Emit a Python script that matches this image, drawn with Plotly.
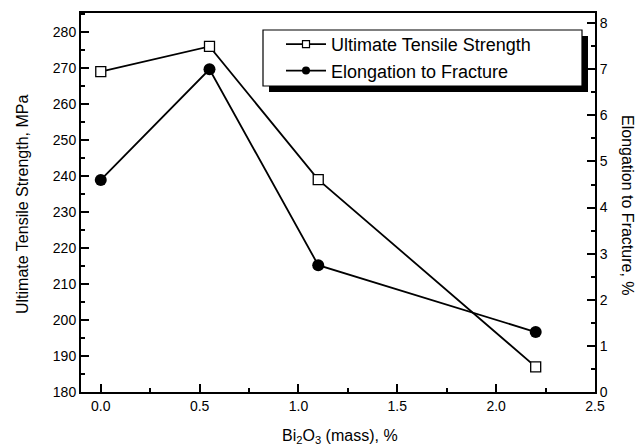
import plotly.graph_objects as go

bi2o3 = [0.0, 0.55, 1.1, 2.2]
uts = [269, 276, 239, 187]
elongation = [4.6, 7.0, 2.75, 1.3]

FONT = "Arial, Liberation Sans, sans-serif"

fig = go.Figure()
fig.add_trace(go.Scatter(
    x=bi2o3, y=uts, name="Ultimate Tensile Strength", mode="lines+markers",
    line=dict(color="black", width=1.8), showlegend=False,
    marker=dict(symbol="square", size=10, color="white", line=dict(color="black", width=1.3)),
    yaxis="y"))
fig.add_trace(go.Scatter(
    x=bi2o3, y=elongation, name="Elongation to Fracture", mode="lines+markers",
    line=dict(color="black", width=1.8), showlegend=False,
    marker=dict(symbol="circle", size=12, color="black"),
    yaxis="y2"))
# legend entries (small symbols, as in the reference)
fig.add_trace(go.Scatter(
    x=[None], y=[None], name="Ultimate Tensile Strength", mode="lines+markers",
    line=dict(color="black", width=1.8),
    marker=dict(symbol="square", size=7, color="white", line=dict(color="black", width=1.2))))
fig.add_trace(go.Scatter(
    x=[None], y=[None], name="Elongation to Fracture", mode="lines+markers",
    line=dict(color="black", width=1.8),
    marker=dict(symbol="circle", size=8, color="black")))

L, R, T, B = 81, 43, 13, 54
W, H = 638, 446
pw, ph = W - L - R, H - T - B

def px2paper(x, y):
    return (x - L) / pw, (H - B - y) / ph

# legend box + shadow
x0, y0 = px2paper(263, 30)
x1, y1 = px2paper(582, 86)
sx0, sy0 = px2paper(269, 36)
sx1, sy1 = px2paper(588, 92)
fig.add_shape(type="rect", xref="paper", yref="paper", x0=sx0, y0=sy1, x1=sx1, y1=sy0,
              fillcolor="black", line=dict(width=0), layer="above")
fig.add_shape(type="rect", xref="paper", yref="paper", x0=x0, y0=y1, x1=x1, y1=y0,
              fillcolor="white", line=dict(color="black", width=1.2), layer="above")

lx, ly = px2paper(281, 26)
fig.update_layout(
    width=W, height=H,
    margin=dict(l=L, r=R, t=T, b=B, autoexpand=False),
    plot_bgcolor="white", paper_bgcolor="white",
    font=dict(family=FONT, color="black", size=14),
    showlegend=True,
    legend=dict(x=lx, y=ly, xanchor="left", yanchor="top",
                bgcolor="rgba(0,0,0,0)", borderwidth=0,
                font=dict(size=18, family=FONT), itemwidth=40,
                tracegroupgap=0),
    xaxis=dict(range=[-0.1, 2.5], tickvals=[0, 0.5, 1.0, 1.5, 2.0, 2.5],
               ticktext=["0.0", "0.5", "1.0", "1.5", "2.0", "2.5"],
               ticks="inside", ticklen=8, tickwidth=1.5, tickcolor="black",
               minor=dict(dtick=0.25, ticks="inside", ticklen=4, tickwidth=1.5, tickcolor="black"),
               showline=True, linecolor="black", linewidth=2, mirror=True,
               showgrid=False, zeroline=False, automargin=False,
               tickfont=dict(size=14)),
    yaxis=dict(range=[180, 285.3], tickvals=list(range(180, 281, 10)),
               ticks="inside", ticklen=8, tickwidth=1.5, tickcolor="black",
               minor=dict(dtick=5, ticks="inside", ticklen=4, tickwidth=1.5, tickcolor="black"),
               showline=True, linecolor="black", linewidth=2, automargin=False,
               showgrid=False, zeroline=False, tickfont=dict(size=14)),
    yaxis2=dict(range=[0, 8.22], tickvals=list(range(0, 9)), overlaying="y", side="right",
                ticks="inside", ticklen=8, tickwidth=1.5, tickcolor="black",
                minor=dict(dtick=0.5, ticks="inside", ticklen=4, tickwidth=1.5, tickcolor="black"),
                showline=True, linecolor="black", linewidth=2, automargin=False,
                showgrid=False, zeroline=False, tickfont=dict(size=14)),
)

ax, ay = px2paper(628, 205)
fig.add_annotation(text="Elongation to Fracture, %", xref="paper", yref="paper",
                   x=ax, y=ay, xanchor="center", yanchor="middle", textangle=90, showarrow=False,
                   font=dict(size=16, family=FONT))
tx, ty = px2paper(22, 205)
fig.add_annotation(text="Ultimate Tensile Strength, MPa", xref="paper", yref="paper",
                   x=tx, y=ty, xanchor="center", yanchor="middle", textangle=-90, showarrow=False,
                   font=dict(size=16, family=FONT))
bx, by = px2paper(340, 436)
fig.add_annotation(text="Bi<sub>2</sub>O<sub>3</sub> (mass), %", xref="paper", yref="paper",
                   x=bx, y=by, xanchor="center", yanchor="middle", showarrow=False,
                   font=dict(size=16, family=FONT))

fig.write_html("out.html", config={"displayModeBar": False},
               post_script="document.body.style.margin='0px';")
